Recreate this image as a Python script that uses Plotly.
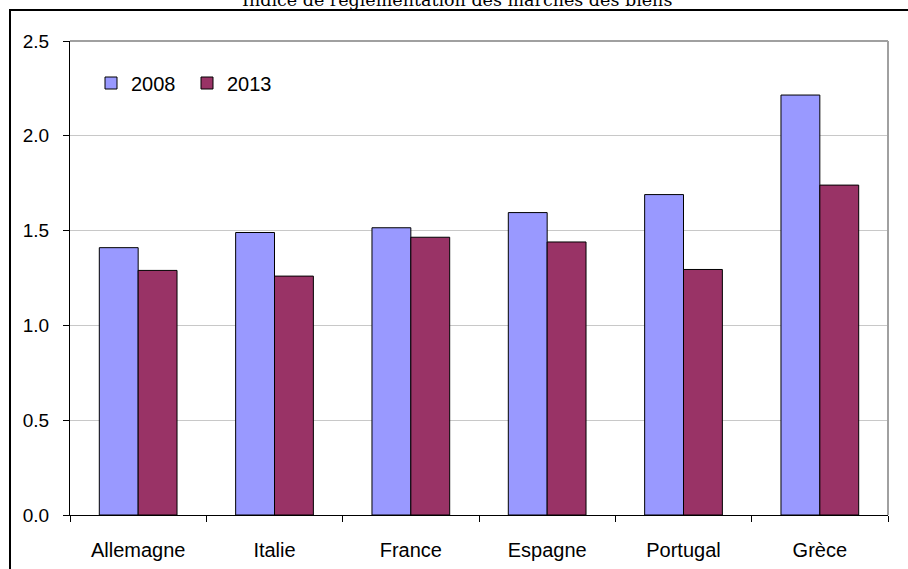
import plotly.graph_objects as go

categories = ["Allemagne", "Italie", "France", "Espagne", "Portugal", "Grèce"]
values_2008 = [1.41, 1.49, 1.515, 1.595, 1.69, 2.215]
values_2013 = [1.29, 1.26, 1.465, 1.44, 1.295, 1.74]
y_ticks = [0.0, 0.5, 1.0, 1.5, 2.0, 2.5]
y_tick_labels = ["0.0", "0.5", "1.0", "1.5", "2.0", "2.5"]
title_text = "Indice de réglementation des marchés des biens"

W, H = 908, 569
ml, mr, mt, mb = 70, 20, 41, 54
pw = W - ml - mr
ph = H - mt - mb

fig = go.Figure()
fig.add_trace(go.Bar(x=categories, y=values_2008, name="2008",
                     marker=dict(color="#9999FF", line=dict(color="#000000", width=1))))
fig.add_trace(go.Bar(x=categories, y=values_2013, name="2013",
                     marker=dict(color="#993366", line=dict(color="#000000", width=1))))

def px_x(x):
    return (x - ml) / pw

def px_y(y):
    return (H - mb - y) / ph

fig.update_layout(
    width=W, height=H,
    margin=dict(l=ml, r=mr, t=mt, b=mb, autoexpand=False),
    paper_bgcolor="white", plot_bgcolor="white",
    barmode="group", bargap=0.43, bargroupgap=0,
    font=dict(family="Liberation Sans, Arial, sans-serif", size=20, color="#000000"),
    showlegend=True,
    legend=dict(orientation="h", x=px_x(91), y=px_y(83), xanchor="left", yanchor="middle",
                bgcolor="rgba(0,0,0,0)", font=dict(size=20),
                itemwidth=30, entrywidth=51, entrywidthmode="pixels"),
    xaxis=dict(type="category", showline=True, linecolor="#000000", linewidth=1,
               ticks="outside", ticklen=6, tickcolor="#000000", tickson="boundaries",
               ticklabelstandoff=17, showgrid=False, zeroline=False, automargin=False,
               tickfont=dict(size=20)),
    yaxis=dict(range=[0, 2.5], tickvals=y_ticks, ticktext=y_tick_labels,
               showline=True, linecolor="#000000", linewidth=1,
               ticks="outside", ticklen=6, tickcolor="#000000", ticklabelstandoff=10,
               showgrid=True, gridcolor="#c8c8c8", gridwidth=1, zeroline=False,
               automargin=False, tickfont=dict(size=19)),
    shapes=[
        dict(type="line", xref="paper", yref="paper", x0=0, x1=1, y0=1, y1=1,
             line=dict(color="#a0a0a0", width=2)),
        dict(type="line", xref="paper", yref="paper", x0=1, x1=1, y0=0, y1=1,
             line=dict(color="#a0a0a0", width=2)),
        dict(type="rect", xref="paper", yref="paper",
             x0=px_x(10), x1=px_x(W + 10), y0=px_y(10), y1=px_y(H + 10),
             line=dict(color="#000000", width=2), fillcolor="rgba(0,0,0,0)", layer="above"),
    ],
    annotations=[
        dict(text=title_text, xref="paper", yref="paper", x=px_x(457), y=px_y(0),
             xanchor="center", yanchor="middle", showarrow=False,
             font=dict(family="DejaVu Serif, serif", size=17.5, color="#000000")),
    ],
)

fig.write_html("out.html")
